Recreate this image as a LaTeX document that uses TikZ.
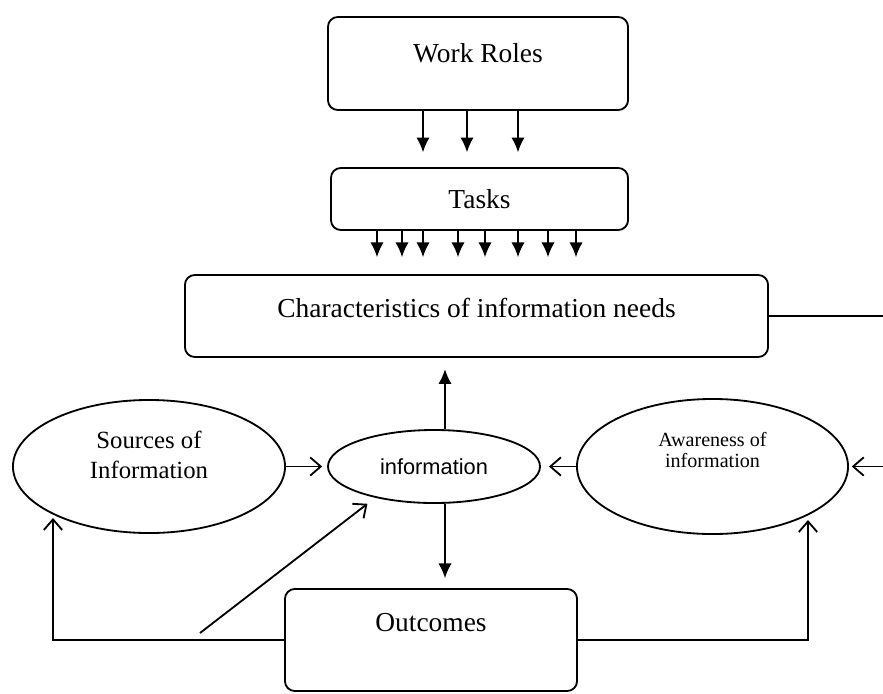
\documentclass[tikz,border=0pt]{standalone}
\usepackage{fontspec}
\setmainfont{Liberation Serif}
\newfontfamily\infofont{Liberation Sans}
\usetikzlibrary{shapes.geometric,arrows.meta}
\newcommand{\lift}[2]{\raisebox{#1}[\height][\depth]{#2}}

\begin{document}
\begin{tikzpicture}[x=0.025cm, y=-0.025cm, line width=1.3pt,
    box/.style={draw, rounded corners=7pt, inner sep=0pt, font=\fontsize{19.5}{23}\selectfont},
    oval/.style={draw, ellipse, inner sep=0pt},
    solidtip/.style={-{Latex[length=10.5pt,width=9.5pt]}},
    opentip/.style={-{Straight Barb[length=7.5pt,width=13pt]}}]
    \useasboundingbox (0,0) rectangle (883,693);

    % Boxes
    \node[box, minimum width=7.5cm, minimum height=2.325cm] (roles) at (478,63.5) {\lift{7.5pt}{Work Roles}};
    \node[box, minimum width=7.425cm, minimum height=1.55cm] (tasks) at (479.5,199) {Tasks};
    \node[box, minimum width=14.575cm, minimum height=2.05cm] (chars) at (476.5,316) {\lift{5.7pt}{Characteristics of information needs}};
    \node[box, minimum width=7.3cm, minimum height=2.55cm] (outcomes) at (431,640) {\lift{12.5pt}{Outcomes}};

    % Ellipses
    \node[oval, minimum width=6.8cm, minimum height=3.325cm, font=\fontsize{17.6}{21}\selectfont] (src) at (149,466.5)
        {\lift{6.4pt}{\begin{tabular}{@{}c@{}}Sources of\\Information\end{tabular}}};
    \node[oval, minimum width=5.3cm, minimum height=1.825cm, font=\infofont\fontsize{15.5}{18}\selectfont] (info) at (434,466.5) {information};
    \node[oval, minimum width=6.775cm, minimum height=3.375cm, font=\fontsize{14.3}{15}\selectfont] (aware) at (712.5,466.5)
        {\lift{9.5pt}{\begin{tabular}{@{}c@{}}Awareness of\\information\end{tabular}}};

    % Free ends
    \coordinate (edgetop) at (883,316);
    \coordinate (edgebot) at (883,466.5);
    \coordinate (srcfoot) at (53,518);
    \coordinate (awarefoot) at (808,520);
    \coordinate (stray) at (200,633);

    % Work roles to tasks
    \foreach \x in {423,467,518}
        \draw[solidtip, shorten >=10.5pt] (roles.south -| \x,0) -- (tasks.north -| \x,0);

    % Tasks to characteristics
    \foreach \x in {377,402,423,458,485,518,548,576}
        \draw[solidtip, shorten >=12pt] (tasks.south -| \x,0) -- (chars.north -| \x,0);

    % Information up and down
    \draw[solidtip, shorten >=8pt] (info.north -| 445,0) -- (chars.south -| 445,0);
    \draw[solidtip, shorten >=7pt] (info.south -| 445,0) -- (outcomes.north -| 445,0);

    % Into information
    \draw[opentip, shorten >=3.5pt] (src.east) -- (info.west);
    \draw[opentip, shorten >=5.7pt] (aware.west) -- (info.east);
    \draw[opentip, shorten >=7pt] (stray) -- (info.208);

    % Right edge
    \draw (chars.east) -- (edgetop);
    \draw[opentip, shorten >=2pt] (edgebot) -- (aware.east);

    % Feedback from outcomes
    \draw[opentip] (outcomes.west) -| (srcfoot);
    \draw[opentip] (outcomes.east) -| (awarefoot);
\end{tikzpicture}
\end{document}
